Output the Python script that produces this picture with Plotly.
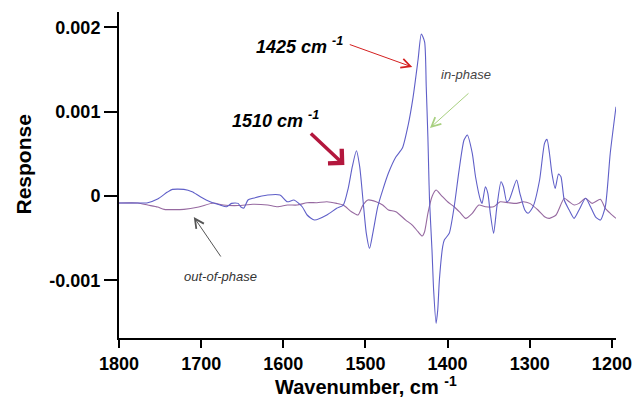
import plotly.graph_objects as go

# ---- data ----
wn_in = [1800, 1777, 1765, 1753, 1741, 1735, 1721, 1711, 1701, 1689, 1677, 1669, 1663, 1655, 1652,
         1648, 1643, 1637, 1619, 1604, 1595, 1587, 1577, 1571, 1562, 1547, 1535, 1527, 1521, 1516,
         1511, 1507, 1503, 1499, 1495, 1491, 1485, 1479, 1472, 1463, 1455, 1448, 1442, 1436, 1432,
         1428, 1426, 1424, 1423, 1422, 1419, 1417, 1414, 1412, 1410, 1406, 1404, 1398, 1392, 1386,
         1380, 1376, 1370, 1366, 1360, 1358, 1354, 1351, 1348, 1344, 1340, 1335, 1332, 1328, 1325,
         1316, 1312, 1306, 1302, 1296, 1288, 1282, 1279, 1276, 1273, 1269, 1265, 1262, 1258, 1252,
         1246, 1240, 1232, 1226, 1220, 1214, 1208, 1202, 1195]
in_phase = [-0.083, -0.083, -0.079, -0.036, 0.047, 0.079, 0.079, 0.051, -0.008, -0.068, -0.107, -0.127,
            -0.087, -0.087, -0.127, -0.142, -0.047, -0.027, 0.012, 0.012, -0.068, -0.047, -0.127,
            -0.225, -0.285, -0.225, -0.146, -0.107, 0.091, 0.348, 0.537, 0.348, -0.047, -0.439, -0.620,
            -0.439, -0.127, 0.071, 0.273, 0.463, 0.569, 0.842, 1.174, 1.613, 1.922, 1.830, 1.297, 0.703,
            0.308, -0.047, -0.640, -1.115, -1.510, -1.352, -0.996, -0.601, -0.522, -0.442, -0.127, 0.308,
            0.664, 0.724, 0.510, 0.229, -0.047, -0.087, 0.110, 0.032, -0.205, -0.442, -0.127, 0.170,
            0.110, -0.068, -0.047, 0.190, 0.032, -0.166, -0.205, -0.127, 0.190, 0.625, 0.673, 0.507,
            0.269, 0.091, 0.261, 0.229, -0.047, -0.166, -0.265, -0.166, -0.027, -0.127, -0.246, -0.285,
            -0.127, 0.507, 1.059]

wn_out = [1800, 1777, 1765, 1753, 1745, 1721, 1703, 1685, 1673, 1655, 1637, 1619, 1607, 1595, 1583,
          1571, 1559, 1547, 1535, 1527, 1517, 1509, 1503, 1497, 1487, 1479, 1472, 1463, 1451, 1443,
          1436, 1431, 1428, 1424, 1419, 1414, 1408, 1400, 1392, 1384, 1378, 1370, 1362, 1354, 1344,
          1336, 1326, 1316, 1308, 1300, 1290, 1282, 1276, 1268, 1258, 1252, 1246, 1240, 1232, 1224,
          1214, 1208, 1202, 1195]
out_phase = [-0.083, -0.083, -0.107, -0.130, -0.158, -0.158, -0.130, -0.083, -0.107, -0.113, -0.098,
             -0.107, -0.127, -0.107, -0.107, -0.079, -0.079, -0.068, -0.087, -0.107, -0.186, -0.225,
             -0.107, -0.047, -0.068, -0.107, -0.166, -0.186, -0.285, -0.344, -0.423, -0.474, -0.423,
             -0.205, -0.008, 0.071, 0.012, -0.068, -0.127, -0.205, -0.265, -0.205, -0.107, -0.127,
             -0.127, -0.068, -0.079, -0.087, -0.068, -0.087, -0.166, -0.246, -0.265, -0.225, -0.027,
             -0.068, -0.107, -0.087, -0.027, -0.087, -0.039, -0.146, -0.205, -0.265]

x_ticks = [1800, 1700, 1600, 1500, 1400, 1300, 1200]
y_ticks = [-0.001, 0, 0.001, 0.002]
y_tick_labels = ["-0.001", "0", "0.001", "0.002"]

scale = 1e-3
in_vals = [v * scale for v in in_phase]
out_vals = [v * scale for v in out_phase]

# ---- layout geometry ----
W, H = 644, 400
ML, MR, MT, MB = 119, 20, 12, 62
XR = [1800, 1195]
YR = [-0.001684, 0.002183]


def px(xp, yp):
    """pixel position -> data coordinates (for annotation placement)"""
    fx = (xp - ML) / (W - ML - MR)
    fy = (H - MB - yp) / (H - MT - MB)
    return XR[0] + fx * (XR[1] - XR[0]), YR[0] + fy * (YR[1] - YR[0])


fig = go.Figure()
fig.add_trace(go.Scatter(x=wn_out, y=out_vals, mode="lines", name="out-of-phase",
                         line=dict(color="rgb(150,105,160)", width=1.1, shape="spline", smoothing=0.6)))
fig.add_trace(go.Scatter(x=wn_in, y=in_vals, mode="lines", name="in-phase",
                         line=dict(color="rgb(95,95,200)", width=1.1, shape="spline", smoothing=0.6)))

FONT = "Liberation Sans, Arial, Helvetica, sans-serif"
anns = []


def text(xp, yp, s, size, bold=False, italic=False, color="black", angle=0):
    x, y = px(xp, yp)
    if bold:
        s = "<b>" + s + "</b>"
    if italic:
        s = "<i>" + s + "</i>"
    anns.append(dict(x=x, y=y, xref="x", yref="y", text=s, showarrow=False, textangle=angle,
                     font=dict(family=FONT, size=size, color=color), xanchor="center", yanchor="middle"))


def arrow(hx, hy, tx, ty, color, width, head, size):
    x, y = px(hx, hy)
    anns.append(dict(x=x, y=y, xref="x", yref="y", ax=tx - hx, ay=ty - hy, text="", showarrow=True,
                     arrowcolor=color, arrowwidth=width, arrowhead=head, arrowsize=size))


text(302, 45, "1425 cm <sup>-1</sup>", 18, bold=True, italic=True)
text(278, 119, "1510 cm <sup>-1</sup>", 18, bold=True, italic=True)
text(472, 74, "in-phase", 13, italic=True, color="#444444")
text(222, 276, "out-of-phase", 13, italic=True, color="#333333")

arrow(417, 67, 353, 44, "#d42020", 1, 5, 1.8)
arrow(435, 128, 475, 92, "#a8d080", 1, 5, 1.8)
arrow(348, 165, 313, 132, "#b3173d", 3.5, 4, 1.1)
arrow(195, 217, 223, 258, "#555555", 1, 5, 1.8)

# axis titles (positions given in pixels, converted to paper fractions)
titles = [(22, 165, "<b>Response</b>", -90, 21), (370, 385, "<b>Wavenumber, cm <sup>-1</sup></b>", 0, 20)]
for tx, ty, s, ang, fs in titles:
    anns.append(dict(x=(tx - ML) / (W - ML - MR), y=(H - MB - ty) / (H - MT - MB),
                     xref="paper", yref="paper", text=s, showarrow=False, textangle=ang,
                     xanchor="center", yanchor="middle",
                     font=dict(family=FONT, size=fs, color="black")))

fig.update_layout(
    width=W, height=H,
    margin=dict(l=ML, r=MR, t=MT, b=MB, pad=0),
    paper_bgcolor="white", plot_bgcolor="white",
    showlegend=False,
    annotations=anns,
    xaxis=dict(range=XR, tickvals=x_ticks, ticktext=[str(t) for t in x_ticks],
               showgrid=False, zeroline=False, showline=True, linecolor="black", linewidth=2,
               ticks="outside", ticklen=8, tickwidth=2, tickcolor="black",
               tickfont=dict(family=FONT, size=18, color="black", weight="bold")),
    yaxis=dict(range=YR, tickvals=y_ticks, ticktext=y_tick_labels,
               showgrid=False, zeroline=False, showline=True, linecolor="black", linewidth=2,
               ticks="outside", ticklen=13, tickwidth=2, tickcolor="black",
               tickfont=dict(family=FONT, size=18, color="black", weight="bold")),
)

fig.write_html("out.html", config={"displayModeBar": False},
               post_script="document.body.style.margin='0px';document.body.style.overflow='hidden';")
